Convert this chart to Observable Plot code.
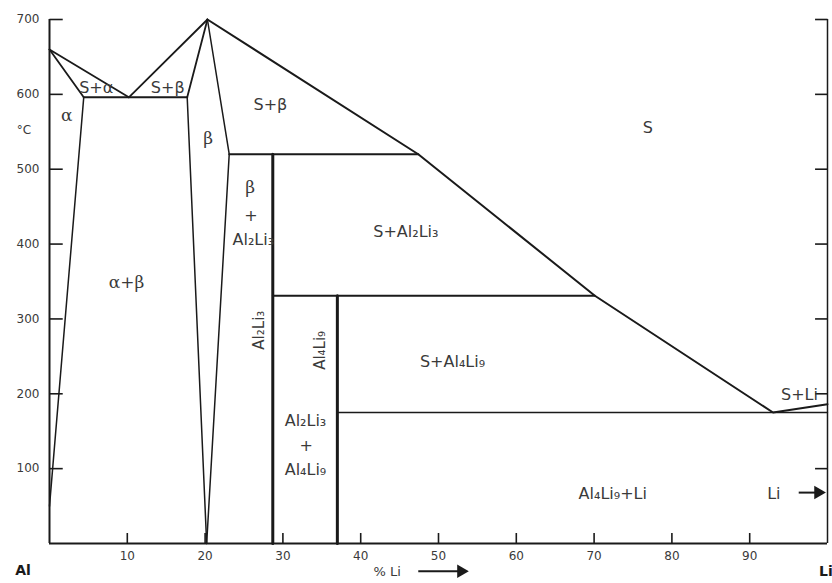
<!DOCTYPE html>
<html>
<head>
<meta charset="utf-8">
<script src="https://cdn.jsdelivr.net/npm/d3@7"></script>
<script src="https://cdn.jsdelivr.net/npm/@observablehq/plot@0.6"></script>
<style>
  html, body { margin: 0; padding: 0; background: #fff; }
  #chart svg { display: block; }
</style>
</head>
<body>
<div id="chart"></div>
<script>
// Al–Li equilibrium phase diagram: composition (% Li) against temperature (°C)
const xTicks = [10, 20, 30, 40, 50, 60, 70, 80, 90];
const yTicks = [100, 200, 300, 400, 500, 600, 700];

// Phase boundaries as [% Li, °C] points
const alphaLiquidus   = [[0, 660], [10.2, 596]];
const alphaSolidus    = [[0, 660], [4.4, 596]];
const alphaSolvus     = [[4.4, 596], [0, 50]];
const eutectic596     = [[4.4, 596], [17.7, 596]];
const betaLiquidusAl  = [[10.2, 596], [20.3, 700]];
const betaSolidusAl   = [[20.3, 700], [17.7, 596]];
const betaSolvusAl    = [[17.7, 596], [20.2, 0]];
const betaBoundaryLi  = [[20.3, 700], [23.1, 520], [20.2, 0]];
const liquidusLi      = [[20.3, 700], [47.4, 520], [70.1, 331], [93, 175], [100, 186]];
const peritectic520   = [[23.1, 520], [47.4, 520]];
const peritectic331   = [[28.7, 331], [70.1, 331]];
const eutectic175     = [[37.0, 175], [100, 175]];
const al2li3Line      = [[28.7, 520], [28.7, 0]];
const al4li9Line      = [[37.0, 331], [37.0, 0]];

// Phase-field labels at [% Li, °C]
const sansLabels = [
  ["S+α", 6.0, 608], ["S+β", 15.2, 608], ["S+β", 28.4, 586], ["S", 76.9, 555],
  ["+", 25.9, 438], ["Al₂Li₃", 26.2, 405],
  ["S+Al₂Li₃", 45.8, 416], ["S+Al₄Li₉", 51.8, 242],
  ["Al₂Li₃", 32.9, 164], ["+", 33.0, 131], ["Al₄Li₉", 32.9, 98],
  ["S+Li", 96.4, 199], ["Al₄Li₉+Li", 72.4, 66], ["Li", 93.1, 66]
];
const greekLabels = [["α", 2.2, 572], ["β", 20.4, 541], ["β", 25.8, 475], ["α+β", 9.9, 348]];
const compoundLabels = [["Al₂Li₃", 26.9, 285], ["Al₄Li₉", 34.8, 258]];
const endLabels = [["Al", -3.4, -36], ["Li", 99.8, -37]];

const pts = a => a.map(([x, y]) => ({x, y}));
const lab = a => a.map(([t, x, y]) => ({t, x, y}));

const boundaries = [
  [alphaLiquidus, 1.8], [alphaSolidus, 1.8], [alphaSolvus, 1.5], [eutectic596, 2],
  [betaLiquidusAl, 1.8], [betaSolidusAl, 1.8], [betaSolvusAl, 1.5], [betaBoundaryLi, 1.5],
  [liquidusLi, 2], [peritectic520, 2], [peritectic331, 2], [eutectic175, 1.4],
  [al2li3Line, 3], [al4li9Line, 3]
];

const ink = "#1a1a1a";
const textInk = "#3a3a3a";

const chart = Plot.plot({
  width: 832,
  height: 583,
  marginLeft: 49,
  marginRight: 5,
  marginTop: 19,
  marginBottom: 40,
  x: {domain: [0, 100]},
  y: {domain: [0, 700]},
  style: {fontFamily: "DejaVu Sans, sans-serif", background: "#fff", color: ink},
  marks: [
    // frame: left, bottom and right edges
    Plot.ruleX([0], {y1: 0, y2: 700, stroke: ink, strokeWidth: 2}),
    Plot.ruleX([100], {y1: 0, y2: 700, stroke: ink, strokeWidth: 1.5}),
    Plot.ruleY([0], {x1: 0, x2: 100, stroke: ink, strokeWidth: 2}),
    // inward tick marks
    Plot.link(yTicks, {x1: 0, x2: 1.7, y1: d => d, y2: d => d, stroke: ink, strokeWidth: 1.6}),
    Plot.link(yTicks, {x1: 100, x2: 98.4, y1: d => d, y2: d => d, stroke: ink, strokeWidth: 1.6}),
    Plot.link(xTicks, {x1: d => d, x2: d => d, y1: 0, y2: 14, stroke: ink, strokeWidth: 1.6}),
    Plot.axisX({ticks: xTicks, tickSize: 0, tickPadding: 8, fontSize: 12, label: null, fill: textInk}),
    Plot.axisY({ticks: yTicks, tickSize: 0, tickPadding: 10, fontSize: 12, label: null, fill: textInk}),
    // phase boundaries
    ...boundaries.map(([a, w]) => Plot.line(pts(a), {x: "x", y: "y", stroke: ink, strokeWidth: w, strokeLinejoin: "round"})),
    // labels
    Plot.text(lab(sansLabels), {x: "x", y: "y", text: "t", fontSize: 16, fill: textInk}),
    Plot.text(lab(greekLabels), {x: "x", y: "y", text: "t", fontSize: 17, fontFamily: "DejaVu Serif, serif", fill: textInk}),
    Plot.text(lab(compoundLabels), {x: "x", y: "y", text: "t", fontSize: 15, rotate: -90, fill: textInk}),
    Plot.text(lab(endLabels), {x: "x", y: "y", text: "t", fontSize: 14, fontWeight: "bold", fill: ink}),
    Plot.text([{t: "°C", x: -3.3, y: 552}], {x: "x", y: "y", text: "t", fontSize: 12, fill: textInk}),
    Plot.text([{t: "% Li", x: 43.4, y: -38}], {x: "x", y: "y", text: "t", fontSize: 13, fill: textInk}),
    // composition arrows
    Plot.link([{x1: 47.4, x2: 52.8, y: -37}], {x1: "x1", x2: "x2", y1: "y", y2: "y", stroke: ink, strokeWidth: 2}),
    Plot.dot([{x: 52.9, y: -37}], {x: "x", y: "y", symbol: "triangle", rotate: 90, r: 5, fill: ink}),
    Plot.link([{x1: 96.3, x2: 98.6, y: 68}], {x1: "x1", x2: "x2", y1: "y", y2: "y", stroke: ink, strokeWidth: 2}),
    Plot.dot([{x: 98.8, y: 68}], {x: "x", y: "y", symbol: "triangle", rotate: 90, r: 5, fill: ink})
  ]
});

document.getElementById("chart").append(chart);
</script>
</body>
</html>
